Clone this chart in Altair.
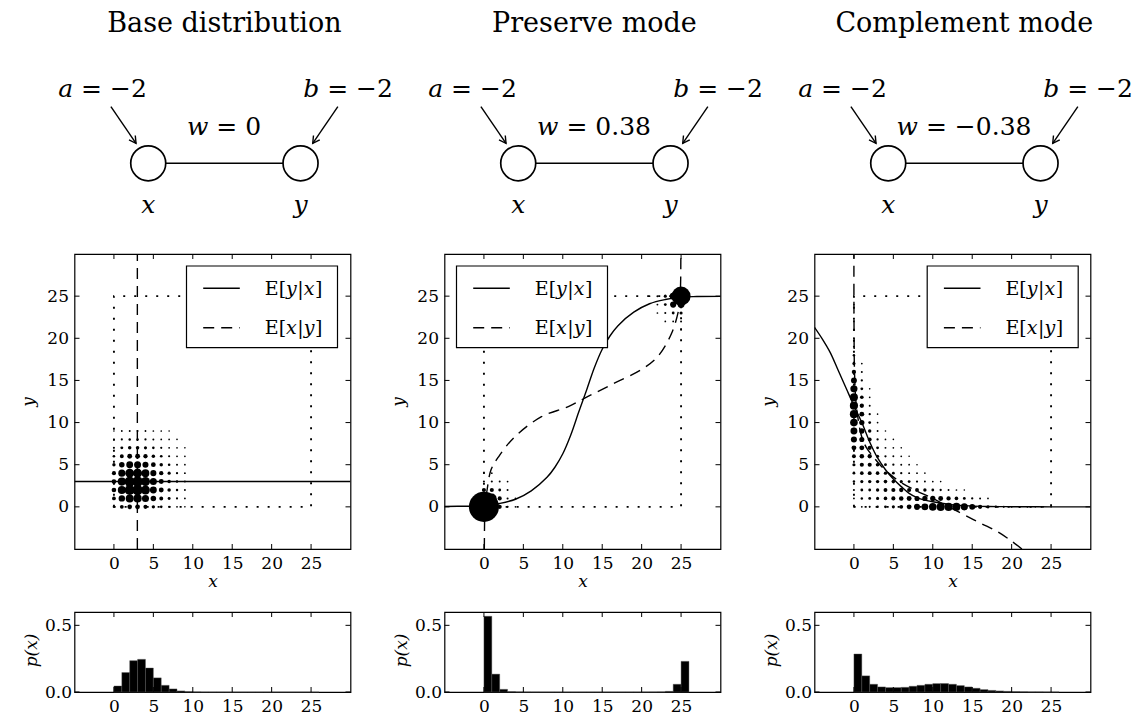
import math
import altair as alt
import pandas as pd

FONT = "DejaVu Serif"

# ------------------------------------------------------------------ values
TITLES = ["Base distribution", "Preserve mode", "Complement mode"]
A_VALUES = ["−2", "−2", "−2"]
B_VALUES = ["−2", "−2", "−2"]
W_VALUES = ["0", "0.38", "−0.38"]

TICKS = [0, 5, 10, 15, 20, 25]
P_TICKS = [0.0, 0.5]
XY_DOMAIN = [-5, 30]
P_DOMAIN = [0, 0.6]

# support of the distribution (0..25 in each coordinate)
SUPPORT_X = [0, 0, 25, 25, 0]
SUPPORT_Y = [0, 25, 25, 0, 0]

# Base distribution: p(x, y) in units of 1e-4; row = y (0..9), column = x (0..9)
BASE_JOINT = [
    [20, 66, 106, 110, 81, 48, 23, 10, 4, 1],
    [66, 213, 343, 358, 263, 155, 73, 34, 12, 4],
    [106, 343, 552, 576, 423, 249, 118, 54, 19, 7],
    [110, 358, 576, 600, 441, 260, 123, 56, 20, 7],
    [81, 263, 423, 441, 324, 191, 90, 41, 14, 5],
    [48, 155, 249, 260, 191, 112, 53, 24, 8, 3],
    [23, 73, 118, 123, 90, 53, 25, 12, 4, 2],
    [10, 34, 54, 56, 41, 24, 12, 5, 2, 1],
    [4, 12, 19, 20, 14, 8, 4, 2, 1, 0],
    [1, 4, 7, 7, 5, 3, 2, 1, 0, 0],
]

# Preserve mode: the non-negligible cells
PRES_X = [0, 1, 0, 1, 2, 0, 2, 1, 2, 3, 0, 3, 1, 3, 2, 3, 4, 0, 4, 1,
          25, 24, 25, 24, 23, 25, 23, 24, 23, 22, 25, 22, 24, 22, 23, 21, 25]
PRES_Y = [0, 0, 1, 1, 0, 2, 1, 2, 2, 0, 3, 1, 3, 2, 3, 3, 0, 4, 1, 4,
          25, 25, 24, 24, 25, 23, 24, 23, 23, 25, 22, 24, 22, 23, 22, 25, 21]
PRES_P = [0.50, 0.06, 0.06, 0.05, 0.008, 0.008, 0.008, 0.008, 0.003, 0.001,
          0.001, 0.001, 0.001, 0.0008, 0.0008, 0.0004, 0.0002, 0.0002, 0.0002, 0.0002,
          0.20, 0.025, 0.025, 0.02, 0.004, 0.004, 0.003, 0.003, 0.001, 0.0008,
          0.0008, 0.0005, 0.0005, 0.0003, 0.0003, 0.0002, 0.0002]

# Complement mode (symmetric in x and y): column x = k, listed from y = k upward
COMP_COL0 = [0.0003, 0.0005, 0.001, 0.002, 0.003, 0.004, 0.007, 0.012, 0.019, 0.025,
             0.031, 0.035, 0.036, 0.034, 0.027, 0.018, 0.009, 0.004, 0.002, 0.001,
             0.0005, 0.0003, 0.0002, 0.0001, 0.0001, 0.0001]
COMP_COL1 = [0.002, 0.003, 0.004, 0.006, 0.008, 0.010, 0.012, 0.013, 0.014, 0.014,
             0.012, 0.009, 0.006, 0.003, 0.0015, 0.0008, 0.0003]
COMP_COL2 = [0.003, 0.005, 0.007, 0.008, 0.009, 0.008, 0.007, 0.005, 0.003, 0.0015,
             0.0007, 0.0003, 0.0001]
COMP_COL3 = [0.005, 0.006, 0.006, 0.004, 0.003, 0.0015, 0.0007, 0.0003, 0.0001]
COMP_COL4 = [0.005, 0.003, 0.0015, 0.0007, 0.0003, 0.0001]
COMP_COL5 = [0.0015, 0.0007, 0.0003, 0.0001]
COMP_COL6 = [0.0003, 0.0001]

# Marginal p(x), bins [k, k+1) for k = 0..25
HIST_BASE = [0.045, 0.146, 0.235, 0.245, 0.18, 0.106, 0.05, 0.023, 0.008, 0.003,
             0.001, 0.0005, 0.0002, 0.0001, 0, 0, 0, 0, 0, 0, 0, 0, 0, 0, 0, 0]
HIST_PRES = [0.568, 0.134, 0.02, 0.003, 0.001, 0.0005, 0.0003, 0.0002, 0.0001, 0.0001,
             0.0001, 0.0001, 0.0001, 0.0001, 0.0001, 0.0001, 0.0001, 0.0001, 0.0001, 0.0002,
             0.0003, 0.0005, 0.001, 0.005, 0.058, 0.23]
HIST_COMP = [0.285, 0.121, 0.058, 0.038, 0.033, 0.033, 0.035, 0.043, 0.05, 0.058,
             0.063, 0.063, 0.058, 0.048, 0.038, 0.028, 0.018, 0.012, 0.008, 0.005,
             0.003, 0.002, 0.001, 0.001, 0.0005, 0.0005]

# Conditional expectations
BASE_EYX_X = [-5, 30]
BASE_EYX_Y = [3.0, 3.0]
BASE_EXY_X = [2.97, 2.97]
BASE_EXY_Y = [-5, 30]

PRES_EYX_X = [-5, -2, 0, 2, 4, 6, 8, 9, 10, 11, 12, 12.5, 13, 14, 15, 16, 17, 19, 21, 23, 25, 27, 30]
PRES_EYX_Y = [0.05, 0.08, 0.12, 0.4, 0.9, 1.9, 3.5, 4.7, 6.3, 8.5, 11.2, 12.5, 13.8, 16.5,
              18.7, 20.3, 21.5, 23.1, 24.1, 24.6, 24.88, 24.95, 24.97]
PRES_EXY_X = [0.05, 0.08, 0.12, 0.4, 0.9, 1.9, 3.9, 7.3, 10.7, 13.2, 16.6, 20, 22.1, 23.8,
              24.7, 24.88, 24.95, 24.97]
PRES_EXY_Y = [-5, -2, 0, 2, 4.4, 6, 8.3, 10.7, 11.9, 13.1, 14.7, 16.3, 17.9, 20.6,
              23.4, 25, 27, 30]

COMP_EYX_X = [-5, -4, -3, -2, -1, 0, 1, 2, 3, 4, 5, 6, 7, 8, 9, 10, 12, 14, 17, 20, 25, 30]
COMP_EYX_Y = [21.3, 19.9, 18.3, 16.2, 14.1, 12.0, 10.0, 7.7, 5.8, 4.4, 3.3, 2.4, 1.6, 1.1,
              0.8, 0.6, 0.3, 0.15, 0.05, 0.02, 0.0, 0.0]
COMP_EXY_X = [21.3, 19.9, 18.3, 16.2, 14.1, 12.0, 10.0, 7.7, 5.8, 4.4, 3.3, 2.4, 1.6, 1.1,
              0.8, 0.6, 0.3, 0.15, 0.05, 0.02, 0.0, 0.0]
COMP_EXY_Y = [-5, -4, -3, -2, -1, 0, 1, 2, 3, 4, 5, 6, 7, 8, 9, 10, 12, 14, 17, 20, 25, 30]

# Two-node graph drawn above each panel
NODE_NAMES = ["x", "y"]
NODE_X = [0.0, 1.0]
NODE_Y = [0.0, 0.0]

# ------------------------------------------------------------------ layout
PANEL_W, SCAT_H, HIST_H, DIAG_H = 276, 295, 80, 191
ROW_GAP, COL_GAP = 63, 94
PXU_Y = 42.0
DIAG_XDOM = [-0.484, 1.328]
DIAG_YDOM = [3.888 - DIAG_H / PXU_Y, 3.888]
PXU_X = PANEL_W / (DIAG_XDOM[1] - DIAG_XDOM[0])

ROMAN_EM = {" ": 0.318, "=": 0.838, "−": 0.838, ".": 0.318,
            "E": 0.729, "[": 0.39, "]": 0.39, "|": 0.337}
ITALIC_EM = {"a": 0.596, "b": 0.64, "w": 0.83, "x": 0.592, "y": 0.592}


def text_px(s, table, size):
    return sum(table.get(c, 0.636) for c in s) * size


def lin(dom):
    return alt.Scale(domain=dom, nice=False, zero=False)


ONE = pd.DataFrame({"k": [0]})

# ------------------------------------------------------------------ axes
AXIS_STYLE = dict(labelFont=FONT, labelFontSize=17, labelColor="black",
                  titleFont=FONT, titleFontSize=17, titleColor="black",
                  titleFontWeight="normal", titleFontStyle="italic",
                  grid=False, domain=False, ticks=False, tickSize=0,
                  labelOverlap=False, labelFlush=False, labelBound=False)

SCAT_X_AXIS = alt.Axis(values=TICKS, title="x", titleY=37, titleBaseline="alphabetic",
                       labelPadding=6, **AXIS_STYLE)
SCAT_Y_AXIS = alt.Axis(values=TICKS, title="y", titleAngle=270, titleX=-46,
                       titleY=SCAT_H / 2, titleAlign="center", titleBaseline="middle",
                       labelPadding=6, **AXIS_STYLE)
HIST_X_AXIS = alt.Axis(values=TICKS, title="", labelPadding=6, **AXIS_STYLE)
HIST_Y_AXIS = alt.Axis(values=P_TICKS, format=".1f", title="p(x)", titleAngle=270,
                       titleX=-43, titleY=38, titleAlign="center", titleBaseline="middle",
                       labelPadding=3, **AXIS_STYLE)


def inward_ticks(xenc, yenc, xt, yt, w, h, length=5):
    dfx = pd.DataFrame({"t": xt})
    dfy = pd.DataFrame({"t": yt})
    rule = dict(color="black", strokeWidth=1)
    return [
        alt.Chart(dfx).mark_rule(**rule).encode(x=xenc("t"), y=alt.value(h), y2=alt.value(h - length)),
        alt.Chart(dfx).mark_rule(**rule).encode(x=xenc("t"), y=alt.value(0), y2=alt.value(length)),
        alt.Chart(dfy).mark_rule(**rule).encode(y=yenc("t"), x=alt.value(0), x2=alt.value(length)),
        alt.Chart(dfy).mark_rule(**rule).encode(y=yenc("t"), x=alt.value(w), x2=alt.value(w - length)),
    ]


# ------------------------------------------------------------------ legend
LEG_W, LEG_TOP, LEG_BOTTOM = 151, 12, 93.7
LEG_FONT = 19
LEG_ROWS = [
    ([("E[", False), ("y", True), ("|", False), ("x", True), ("]", False)], None, 34.3, 41.0),
    ([("E[", False), ("x", True), ("|", False), ("y", True), ("]", False)], [11, 7], 73.7, 80.3),
]


def legend_layers(left):
    layers = [alt.Chart(ONE).mark_rect(fill="white", stroke="black", strokeWidth=1.2).encode(
        x=alt.value(left), x2=alt.value(left + LEG_W),
        y=alt.value(LEG_TOP), y2=alt.value(LEG_BOTTOM))]
    for pieces, dash, line_y, base_y in LEG_ROWS:
        kw = dict(color="black", strokeWidth=1.4)
        if dash:
            kw["strokeDash"] = dash
        layers.append(alt.Chart(ONE).mark_rule(**kw).encode(
            x=alt.value(left + 16.7), x2=alt.value(left + 53.3), y=alt.value(line_y)))
        cur = left + 78.3
        for txt, italic in pieces:
            layers.append(alt.Chart(ONE).mark_text(
                text=txt, align="left", baseline="alphabetic", font=FONT, fontSize=LEG_FONT,
                fontStyle="italic" if italic else "normal", color="black").encode(
                x=alt.value(cur), y=alt.value(base_y)))
            cur += text_px(txt, ITALIC_EM if italic else ROMAN_EM, LEG_FONT)
    return layers


# ------------------------------------------------------------------ panels
def curve_df(xs, ys):
    return pd.DataFrame({"x": xs, "y": ys, "i": range(len(xs))})


def scat_x(f):
    return alt.X(f, type="quantitative", scale=lin(XY_DOMAIN), axis=SCAT_X_AXIS)


def scat_y(f):
    return alt.Y(f, type="quantitative", scale=lin(XY_DOMAIN), axis=SCAT_Y_AXIS)


def scatter(joint, eyx, exy, leg_left):
    support = alt.Chart(curve_df(SUPPORT_X, SUPPORT_Y)).mark_line(
        color="black", strokeWidth=1.9, strokeDash=[2, 9]).encode(
        x=scat_x("x"), y=scat_y("y"), order="i:Q")
    dots = alt.Chart(joint).mark_circle(color="black", opacity=1).encode(
        x=scat_x("x"), y=scat_y("y"),
        size=alt.Size("p:Q", scale=alt.Scale(domain=[0, 1], range=[2.5, 1802.5]), legend=None))
    solid = alt.Chart(eyx).mark_line(color="black", strokeWidth=1.4, clip=True,
                                     interpolate="catmull-rom").encode(
        x=scat_x("x"), y=scat_y("y"), order="i:Q")
    dashed = alt.Chart(exy).mark_line(color="black", strokeWidth=1.4, clip=True,
                                      strokeDash=[11, 7], interpolate="catmull-rom").encode(
        x=scat_x("x"), y=scat_y("y"), order="i:Q")
    layers = [support, dots, solid, dashed]
    layers += inward_ticks(scat_x, scat_y, TICKS, TICKS, PANEL_W, SCAT_H)
    layers += legend_layers(leg_left)
    return alt.layer(*layers).properties(width=PANEL_W, height=SCAT_H)


def hist_x(f):
    return alt.X(f, type="quantitative", scale=lin(XY_DOMAIN), axis=HIST_X_AXIS)


def hist_y(f):
    return alt.Y(f, type="quantitative", scale=lin(P_DOMAIN), axis=HIST_Y_AXIS)


def histogram(vals):
    df = pd.DataFrame({"x0": list(range(26)), "x1": list(range(1, 27)), "p": vals,
                       "base": [0.0] * 26})
    bars = alt.Chart(df).mark_rect(color="black", stroke="#555", strokeWidth=0.4).encode(
        x=hist_x("x0"), x2="x1", y=hist_y("p"), y2="base")
    layers = [bars] + inward_ticks(hist_x, hist_y, TICKS, P_TICKS, PANEL_W, HIST_H)
    return alt.layer(*layers).properties(width=PANEL_W, height=HIST_H)


DIAG_TITLE = (0.5, 3.133)
A_POS = (-0.30, 1.586)
B_POS = (1.312, 1.586)
W_POS = (0.5, 0.674)
NODE_LABEL_Y = -1.19
ARROW_FROM = [(-0.245, 1.35), (1.245, 1.35)]
ARROW_TO = [(-0.08, 0.476), (1.08, 0.476)]
LABEL_FONT, TITLE_FONT = 25, 27
CHEVRON = "M-0.55,1L0,0L0.55,1"
SPACE_PX = ROMAN_EM[" "] * LABEL_FONT


def diagram(k):
    dx = lambda f: alt.X(f, type="quantitative", scale=lin(DIAG_XDOM), axis=None)
    dy = lambda f: alt.Y(f, type="quantitative", scale=lin(DIAG_YDOM), axis=None)
    nodes = pd.DataFrame({"x": NODE_X, "y": NODE_Y, "name": NODE_NAMES,
                          "ly": [NODE_LABEL_Y] * len(NODE_X)})
    edge = pd.DataFrame({"x0": [NODE_X[0]], "x1": [NODE_X[1]], "y0": [NODE_Y[0]]})
    arrows = pd.DataFrame({"x0": [p[0] for p in ARROW_FROM], "y0": [p[1] for p in ARROW_FROM],
                           "x1": [p[0] for p in ARROW_TO], "y1": [p[1] for p in ARROW_TO]})
    layers = [
        alt.Chart(edge).mark_rule(color="black", strokeWidth=1.6).encode(
            x=dx("x0"), x2="x1", y=dy("y0")),
        alt.Chart(arrows).mark_rule(color="black", strokeWidth=1.4).encode(
            x=dx("x0"), y=dy("y0"), x2="x1", y2="y1"),
    ]
    for (x0, y0), (x1, y1) in zip(ARROW_FROM, ARROW_TO):
        ang = (180 - math.degrees(math.atan2((x1 - x0) * PXU_X, (y0 - y1) * PXU_Y))) % 360
        head = pd.DataFrame({"x": [x1], "y": [y1]})
        layers.append(alt.Chart(head).mark_point(
            shape=CHEVRON, filled=False, stroke="black", strokeWidth=1.4, size=190,
            angle=round(ang, 2), opacity=1).encode(x=dx("x"), y=dy("y")))
    layers.append(alt.Chart(nodes).mark_point(
        shape="circle", filled=True, fill="white", stroke="black", strokeWidth=1.7,
        size=1225, opacity=1, fillOpacity=1).encode(x=dx("x"), y=dy("y")))
    layers.append(alt.Chart(nodes).mark_text(
        font=FONT, fontSize=LABEL_FONT, fontStyle="italic", align="center",
        baseline="alphabetic", color="black").encode(x=dx("x"), y=dy("ly"), text="name:N"))
    title = pd.DataFrame({"x": [DIAG_TITLE[0]], "y": [DIAG_TITLE[1]], "t": [TITLES[k]]})
    layers.append(alt.Chart(title).mark_text(
        font=FONT, fontSize=TITLE_FONT, align="center", baseline="alphabetic",
        color="black").encode(x=dx("x"), y=dy("y"), text="t:N"))

    rows = []
    for sym, val, (cx, cy) in [("a", A_VALUES[k], A_POS), ("b", B_VALUES[k], B_POS),
                               ("w", W_VALUES[k], W_POS)]:
        rest = "= " + val
        wi = text_px(sym, ITALIC_EM, LABEL_FONT)
        wr = SPACE_PX + text_px(rest, ROMAN_EM, LABEL_FONT)
        split = cx + (-(wi + wr) / 2 + wi) / PXU_X
        rows.append({"sx": split, "sy": cy, "it": sym, "rm": rest})
    lab = pd.DataFrame(rows)
    layers.append(alt.Chart(lab).mark_text(
        font=FONT, fontSize=LABEL_FONT, fontStyle="italic", align="right",
        baseline="alphabetic", color="black").encode(x=dx("sx"), y=dy("sy"), text="it:N"))
    layers.append(alt.Chart(lab).mark_text(
        font=FONT, fontSize=LABEL_FONT, align="left", baseline="alphabetic",
        dx=SPACE_PX, color="black").encode(x=dx("sx"), y=dy("sy"), text="rm:N"))
    return alt.layer(*layers).properties(width=PANEL_W, height=DIAG_H,
                                         view=alt.ViewBackground(strokeOpacity=0))


# ------------------------------------------------------------------ joint tables
def base_joint():
    rows = []
    for y, row in enumerate(BASE_JOINT):
        for x, v in enumerate(row):
            if v > 0:
                rows.append({"x": x, "y": y, "p": v * 1e-4})
    return pd.DataFrame(rows)


def preserve_joint():
    return pd.DataFrame({"x": PRES_X, "y": PRES_Y, "p": PRES_P})


def complement_joint():
    rows = []
    for kx, col in enumerate([COMP_COL0, COMP_COL1, COMP_COL2, COMP_COL3,
                              COMP_COL4, COMP_COL5, COMP_COL6]):
        for i, p in enumerate(col):
            ky = kx + i
            rows.append({"x": kx, "y": ky, "p": p})
            if ky != kx:
                rows.append({"x": ky, "y": kx, "p": p})
    return pd.DataFrame(rows)


PANELS = [
    (base_joint(), curve_df(BASE_EYX_X, BASE_EYX_Y), curve_df(BASE_EXY_X, BASE_EXY_Y), 112, HIST_BASE),
    (preserve_joint(), curve_df(PRES_EYX_X, PRES_EYX_Y), curve_df(PRES_EXY_X, PRES_EXY_Y), 12, HIST_PRES),
    (complement_joint(), curve_df(COMP_EYX_X, COMP_EYX_Y), curve_df(COMP_EXY_X, COMP_EXY_Y), 112.7, HIST_COMP),
]

# grid, row by row: graphs, joint distributions, marginals
cells = [diagram(k) for k in range(3)]
cells += [scatter(j, a, b, left) for j, a, b, left, _ in PANELS]
cells += [histogram(h) for *_, h in PANELS]

chart = alt.concat(*cells, columns=3, spacing={"row": ROW_GAP, "column": COL_GAP},
                   bounds="flush").properties(
    padding={"left": 18.5, "top": 0, "right": 0, "bottom": 0},
    background="white",
).configure_view(
    stroke="black", strokeWidth=1.2
)

chart.save("out.html", embed_options={"renderer": "svg", "actions": False})
